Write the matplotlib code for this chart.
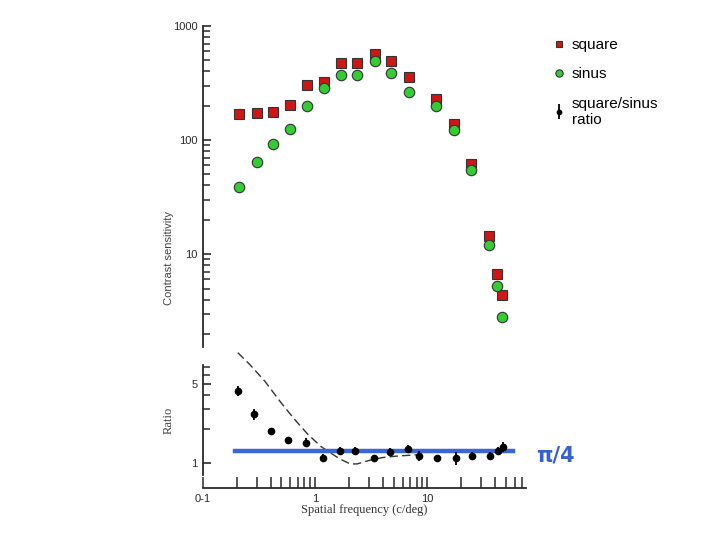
import numpy as np
import matplotlib.pyplot as plt

# spatial frequency (c/deg) of the contrast sensitivity points
freq = [0.21, 0.30, 0.42, 0.59, 0.84, 1.19, 1.71, 2.35, 3.43, 4.74, 6.9,
        12.0, 17.3, 24.2, 35.2, 41.9, 46.4]
square_cs = [169, 173, 177, 202, 301, 321, 469, 478, 569, 488, 358,
             230, 139, 61.7, 14.5, 6.7, 4.35]
sinus_cs = [38.5, 63.8, 92.2, 126, 198, 283, 370, 373, 488, 385, 261,
            197, 122, 54.3, 12.0, 5.25, 2.81]

# square/sinus ratio points
ratio_freq = [0.204, 0.286, 0.406, 0.570, 0.824, 1.17, 1.67, 2.27, 3.32,
              4.62, 6.69, 8.38, 12.1, 17.9, 24.9, 36.3, 42.9, 47.5]
ratio = [4.36, 2.71, 1.93, 1.61, 1.51, 1.11, 1.28, 1.28, 1.11, 1.26, 1.34,
         1.16, 1.10, 1.11, 1.16, 1.16, 1.28, 1.39]
ratio_err = [0.45, 0.30, 0.12, 0.10, 0.14, 0.10, 0.09, 0.09, 0.06, 0.09, 0.09,
             0.12, 0.08, 0.15, 0.08, 0.08, 0.09, 0.14]

# theoretical curve (dashed)
theory_freq = [0.204, 0.263, 0.358, 0.487, 0.640, 0.843, 1.11, 1.36, 1.67,
               2.05, 2.36, 3.10, 4.07, 5.36, 8.09]
theory_ratio = [9.46, 7.37, 5.24, 3.49, 2.49, 1.83, 1.41, 1.23, 1.08,
                0.98, 0.98, 1.06, 1.12, 1.15, 1.18]

# pi/4 reference line
pi_line_freq = [0.193, 58.0]
pi_line_ratio = [4 / np.pi, 4 / np.pi]

ink = '#2a2a2a'
sans = 'Liberation Sans'
serif = 'Liberation Serif'

fig = plt.figure(figsize=(7.2, 5.4), dpi=100)

# ---- top panel: contrast sensitivity
ax1 = fig.add_axes([0.282, 0.357, 0.449, 0.595])
ax1.set_xscale('log')
ax1.set_yscale('log')
ax1.set_xlim(0.1, 76)
ax1.set_ylim(1.53, 1000)
for s in ['top', 'right', 'bottom']:
    ax1.spines[s].set_visible(False)
ax1.spines['left'].set_color(ink)
ax1.spines['left'].set_linewidth(1.3)
ax1.tick_params(axis='x', which='both', bottom=False, labelbottom=False)
ax1.tick_params(axis='y', which='major', direction='in', length=6, width=1.2,
                color=ink, labelsize=8, labelcolor=ink, pad=4)
ax1.tick_params(axis='y', which='minor', direction='in', length=5, width=1.1,
                color=ink)
ax1.set_yticks([10, 100, 1000])
ax1.set_yticklabels(['10', '100', '1000'], fontfamily=sans)
ax1.set_ylabel('Contrast sensitivity', fontfamily=sans, fontsize=8,
               color='#444444')
ax1.yaxis.set_label_coords(-0.09, 0.277)

sq, = ax1.plot(freq, square_cs, 's', color='#d01515', markeredgecolor='#333333',
               markeredgewidth=0.8, markersize=7, label='square')
ci, = ax1.plot(freq, sinus_cs, 'o', color='#33cc33', markeredgecolor='#333333',
               markeredgewidth=0.8, markersize=7.5, label='sinus')

# ---- bottom panel: ratio
ax2 = fig.add_axes([0.282, 0.0963, 0.449, 0.251])
ax2.set_xscale('log')
ax2.set_yscale('log')
ax2.set_xlim(0.1, 76)
ax2.set_ylim(0.6, 9.5)
for s in ['top', 'right']:
    ax2.spines[s].set_visible(False)
for s in ['left', 'bottom']:
    ax2.spines[s].set_color(ink)
    ax2.spines[s].set_linewidth(1.3)
ax2.spines['left'].set_bounds(0.78, 7.4)
ax2.set_yticks([1, 5])
ax2.set_yticklabels(['1', '5'], fontfamily=sans)
ax2.set_yticks([2, 3, 4, 6, 7], minor=True)
ax2.yaxis.set_minor_formatter(plt.NullFormatter())
ax2.tick_params(axis='y', which='major', direction='in', length=6, width=1.2,
                color=ink, labelsize=8, labelcolor=ink, pad=4)
ax2.tick_params(axis='y', which='minor', direction='in', length=5, width=1.1,
                color=ink)
ax2.set_xticks([0.1, 1, 10])
ax2.set_xticklabels(['0-1', '1', '10'], fontfamily=sans)
minor_x = [m * d for d in (0.1, 1, 10) for m in range(2, 10) if m * d <= 70]
ax2.set_xticks(minor_x, minor=True)
ax2.xaxis.set_minor_formatter(plt.NullFormatter())
ax2.tick_params(axis='x', which='both', direction='in', length=8, width=1.1,
                color=ink, labelsize=8, labelcolor=ink, pad=4)
ax2.set_ylabel('Ratio', fontfamily=serif, fontsize=9, color='#444444',
               labelpad=12)
ax2.set_xlabel('Spatial frequency (c/deg)', fontfamily=serif, fontsize=9,
               color='#333333', labelpad=0)

ax2.plot(theory_freq, theory_ratio, '--', color='#333333', linewidth=1.0,
         dashes=(6, 3))
ax2.plot(pi_line_freq, pi_line_ratio, '-', color='#3a66d6', linewidth=3.2)
eb = ax2.errorbar(ratio_freq, ratio, yerr=ratio_err, fmt='o', color='black',
                  markersize=4.5, elinewidth=1.3, capsize=0,
                  label='square/sinus\nratio')

fig.text(0.744, 0.157, 'π/4', color='#3a60d0', fontsize=15,
         fontfamily='DejaVu Sans', fontweight='bold', va='center')

fig.legend(handles=[sq, ci, eb], labels=['square', 'sinus', 'square/sinus\nratio'],
           loc='upper left', bbox_to_anchor=(0.751, 0.955), frameon=False,
           prop={'family': sans, 'size': 11}, handlelength=0.6,
           handletextpad=0.55, labelspacing=1.0, markerscale=0.7)

fig.savefig('out.png', dpi=100)
